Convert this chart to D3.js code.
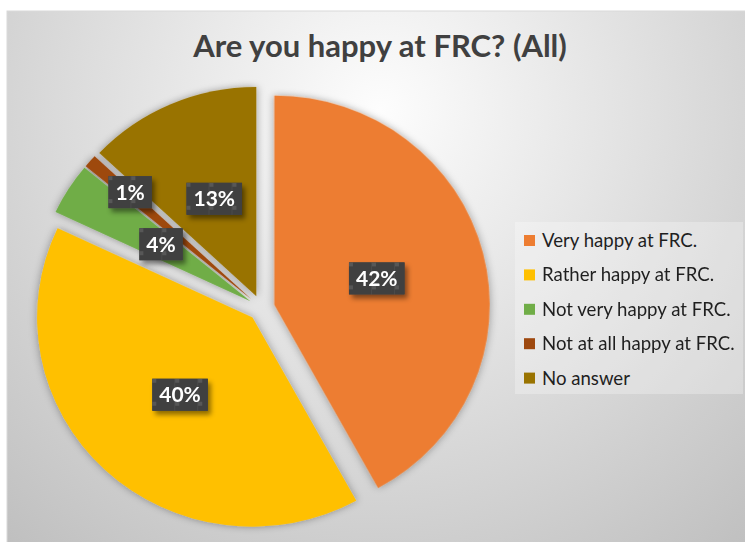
<!DOCTYPE html>
<html>
<head>
<meta charset="utf-8">
<script src="https://cdn.jsdelivr.net/npm/d3@7"></script>
<style>
  html, body { margin: 0; padding: 0; background: #fff; }
  svg { display: block; }
</style>
</head>
<body>
<div id="chart"></div>
<script>
const categories = ['Very happy at FRC.', 'Rather happy at FRC.', 'Not very happy at FRC.', 'Not at all happy at FRC.', 'No answer'];
const values = [42, 40, 4, 1, 13];
const colors = ['#ED7D31', '#FFC000', '#70AD47', '#9E480E', '#997300'];
const title = 'Are you happy at FRC? (All)';

const W = 745, H = 542;
const FONT = 'Lato, "Open Sans", sans-serif';
const cx = 261.5, cy = 308, R = 212, explode = 13;

const svg = d3.select('#chart').append('svg').attr('width', W).attr('height', H);
const defs = svg.append('defs');

// background radial gradient
const bg = defs.append('radialGradient').attr('id', 'bg')
  .attr('gradientUnits', 'userSpaceOnUse').attr('cx', 380).attr('cy', 110).attr('r', 620);
bg.append('stop').attr('offset', 0).attr('stop-color', '#fdfdfd');
bg.append('stop').attr('offset', 1).attr('stop-color', '#bababa');

// soft shadow round the slices
const sh = defs.append('filter').attr('id', 'pieShadow').attr('x', '-20%').attr('y', '-20%').attr('width', '140%').attr('height', '140%');
sh.append('feDropShadow').attr('dx', 0).attr('dy', 0).attr('stdDeviation', 4)
  .attr('flood-color', '#000').attr('flood-opacity', 0.35);

const lsh = defs.append('filter').attr('id', 'lblShadow').attr('x', '-30%').attr('y', '-30%').attr('width', '160%').attr('height', '160%');
lsh.append('feDropShadow').attr('dx', 3).attr('dy', 4).attr('stdDeviation', 2.5)
  .attr('flood-color', '#000').attr('flood-opacity', 0.45);

// texture of the label boxes
const pat = defs.append('pattern').attr('id', 'tex').attr('patternUnits', 'userSpaceOnUse')
  .attr('width', 23).attr('height', 23);
pat.append('rect').attr('width', 23).attr('height', 23).attr('fill', '#404040');
pat.append('rect').attr('width', 4).attr('height', 4).attr('fill', '#575757');
pat.append('rect').attr('x', 22).attr('width', 1).attr('height', 23).attr('fill', '#4a4a4a');

svg.append('rect').attr('x', 7).attr('y', 11).attr('width', W).attr('height', H)
  .attr('fill', 'url(#bg)').attr('stroke', '#d9d9d9').attr('stroke-width', 1);

svg.append('text').attr('x', 380).attr('y', 57).attr('text-anchor', 'middle')
  .attr('font-family', FONT).attr('font-weight', 700).attr('font-size', 31).attr('fill', '#404040')
  .text(title);

// pie
const total = d3.sum(values);
const pie = d3.pie().sort(null).value((d) => d)(values);
const arc = d3.arc().innerRadius(0).outerRadius(R);
const dir = (d) => { const a = (d.startAngle + d.endAngle) / 2; return [Math.sin(a), -Math.cos(a)]; };

const pg = svg.append('g').attr('transform', `translate(${cx},${cy})`);
pg.append('g').attr('transform', 'scale(1.016,0.987)').attr('filter', 'url(#pieShadow)')
  .selectAll('path').data(pie).join('path')
  .attr('transform', (d) => { const v = dir(d); return `translate(${v[0] * explode},${v[1] * explode})`; })
  .attr('d', arc).attr('fill', (d, i) => colors[i]);

// data labels
const fmt = d3.format('.0%');
const lg = pg.selectAll('g.lbl').data(pie).join('g').attr('class', 'lbl')
  .attr('transform', (d) => {
    const v = dir(d);
    const frac = d.value / total;
    const r = explode + R * (frac < 0.02 ? 0.765 : 0.5);
    return `translate(${v[0] * r},${v[1] * r})`;
  });
lg.each(function (d) {
  const g = d3.select(this);
  const t = g.append('text').attr('font-family', FONT).attr('font-weight', 700).attr('font-size', 21)
    .attr('fill', '#fff').attr('text-anchor', 'middle').attr('dy', '0.36em').text(fmt(d.value / total));
  const w = t.node().getComputedTextLength() + 14, h = 32;
  g.insert('rect', 'text').attr('x', -w / 2).attr('y', -h / 2).attr('width', w).attr('height', h)
    .attr('fill', '#404040').attr('filter', 'url(#lblShadow)');
  g.insert('g', 'text').attr('transform', `translate(${-w / 2},${-h / 2})`)
    .append('rect').attr('width', w).attr('height', h).attr('fill', 'url(#tex)');
});

// legend
const legX = 515, legY = 222, legW = 228, legH = 172, rowH = 34.4;
svg.append('rect').attr('x', legX).attr('y', legY).attr('width', legW).attr('height', legH)
  .attr('fill', '#ffffff').attr('fill-opacity', 0.28);
const li = svg.append('g').selectAll('g').data(categories).join('g')
  .attr('transform', (d, i) => `translate(${legX + 9},${legY + 18.5 + i * rowH})`);
li.append('rect').attr('x', 0).attr('y', -5.5).attr('width', 11).attr('height', 11).attr('fill', (d, i) => colors[i]);
li.append('text').attr('x', 18).attr('dy', '0.35em').attr('font-family', FONT).attr('font-size', 18.6)
  .attr('fill', '#1f1f1f').text((d) => d);
</script>
</body>
</html>
